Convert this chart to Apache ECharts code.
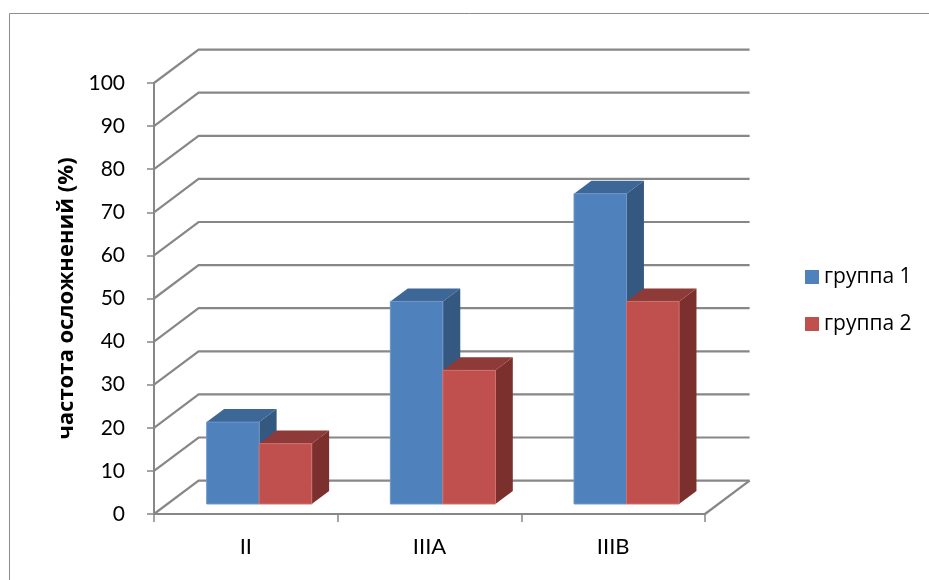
<!DOCTYPE html>
<html>
<head>
<meta charset="utf-8">
<script src="https://cdn.jsdelivr.net/npm/echarts@6/dist/echarts.min.js"></script>
<style>
html,body{margin:0;padding:0;background:#fff;}
#chart{width:929px;height:580px;}
</style>
</head>
<body>
<div id="chart"></div>
<script>
const categories = ['II', 'IIIA', 'IIIB'];
const seriesNames = ['группа 1', 'группа 2'];
const group1 = [19, 47, 72];
const group2 = [14, 31, 47];
const yTicks = [0, 10, 20, 30, 40, 50, 60, 70, 80, 90, 100];

const FONT = 'Lato, "Open Sans", sans-serif';
const CYR_FONT = '"Open Sans", "Noto Sans", sans-serif';
const DX = 44.6, DY = -33.4;          // depth of the 3D box
const FRONT = 0.3, DEPTH = 0.39;      // bar position/depth as fraction of box depth
const BAR_FRAC = 0.286;               // bar width as fraction of category band
const GRID_COLOR = '#878787';

const faceColors = [
  { front: '#4F81BD', top: '#3C6797', side: '#34587F', edge: '#7096c8' },
  { front: '#C0504D', top: '#8E3A38', side: '#7C302E', edge: '#cd716e' }
];

const chart = echarts.init(document.getElementById('chart'));

function gridRender(params, api) {
  const cs = params.coordSys;
  const v = api.value(1);
  const y = api.coord([0, v])[1];
  const children = [{
    type: 'polyline',
    shape: { points: [[cs.x, y], [cs.x + DX, y + DY], [cs.x + cs.width + DX, y + DY]] },
    style: { stroke: GRID_COLOR, lineWidth: 2.2, fill: null }
  }];
  if (v === 0) {
    children.push({
      type: 'line',
      shape: { x1: cs.x + cs.width, y1: y, x2: cs.x + cs.width + DX, y2: y + DY },
      style: { stroke: GRID_COLOR, lineWidth: 2.2 }
    });
  }
  return { type: 'group', children };
}

function barRender(idx) {
  return function (params, api) {
    const ci = api.value(0);
    const c = api.coord([ci, api.value(1)]);
    const c0 = api.coord([ci, 0]);
    const band = api.size([1, 0])[0];
    const bw = band * BAR_FRAC;
    const fx = FRONT * DX, fy = FRONT * DY;
    const bdx = DEPTH * DX, bdy = DEPTH * DY;
    const x0 = (idx === 0 ? c[0] - bw : c[0]) + fx;
    const x1 = x0 + bw;
    const top = c[1] + fy;
    const bot = c0[1] + fy;
    const col = faceColors[idx];
    return {
      type: 'group',
      children: [
        { type: 'polygon', shape: { points: [[x1, top], [x1 + bdx, top + bdy], [x1 + bdx, bot + bdy], [x1, bot]] },
          style: { fill: col.side } },
        { type: 'polygon', shape: { points: [[x0, top], [x1, top], [x1 + bdx, top + bdy], [x0 + bdx, top + bdy]] },
          style: { fill: col.top } },
        { type: 'rect', shape: { x: x0, y: top, width: bw, height: bot - top },
          style: { fill: col.front, stroke: col.edge, lineWidth: 1 } }
      ]
    };
  };
}

const option = {
  backgroundColor: '#fff',
  animation: false,
  graphic: [{
    type: 'rect', silent: true,
    shape: { x: 9.5, y: 13.5, width: 1000, height: 1000 },
    style: { fill: null, stroke: '#8c8c8c', lineWidth: 1 }
  }],
  grid: { left: 154, top: 83, right: 224, bottom: 66 },
  legend: {
    orient: 'vertical',
    left: 800, top: 261,
    itemWidth: 14, itemHeight: 14, itemGap: 25,
    icon: 'rect',
    data: seriesNames,
    textStyle: { fontFamily: CYR_FONT, fontSize: 21, color: '#000', lineHeight: 22 }
  },
  xAxis: {
    type: 'category',
    data: categories,
    axisLine: { show: true, lineStyle: { color: GRID_COLOR, width: 2 } },
    axisTick: { show: true, length: 8, lineStyle: { color: GRID_COLOR, width: 1.5 } },
    axisLabel: { fontFamily: FONT, fontSize: 22, color: '#000', margin: 22 },
    splitLine: { show: false }
  },
  yAxis: {
    type: 'value',
    min: 0, max: 100, interval: 10,
    name: 'частота осложнений (%)',
    nameLocation: 'middle',
    nameRotate: 90,
    nameGap: 76,
    nameTextStyle: { fontFamily: CYR_FONT, fontSize: 22, fontWeight: 'bold', color: '#000' },
    axisLine: { show: true, lineStyle: { color: GRID_COLOR, width: 2 } },
    axisTick: { show: true, length: 7, lineStyle: { color: GRID_COLOR, width: 1.5 } },
    axisLabel: { fontFamily: FONT, fontSize: 21, color: '#000', margin: 29 },
    splitLine: { show: false }
  },
  series: [
    {
      type: 'custom', name: 'grid3d', silent: true, z: 1,
      renderItem: gridRender,
      data: yTicks.map(v => [0, v]),
      encode: { x: 0, y: 1 }
    },
    {
      type: 'custom', name: seriesNames[0], z: 3,
      itemStyle: { color: faceColors[0].front },
      renderItem: barRender(0),
      data: group1.map((v, i) => [i, v]),
      encode: { x: 0, y: 1 }
    },
    {
      type: 'custom', name: seriesNames[1], z: 4,
      itemStyle: { color: faceColors[1].front },
      renderItem: barRender(1),
      data: group2.map((v, i) => [i, v]),
      encode: { x: 0, y: 1 }
    }
  ]
};
chart.setOption(option);
</script>
</body>
</html>
